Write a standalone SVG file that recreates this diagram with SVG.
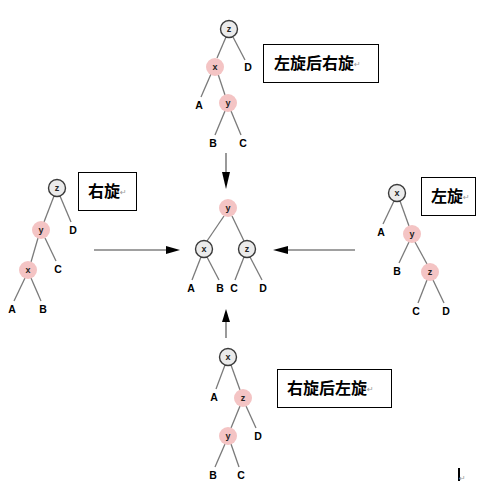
<svg xmlns="http://www.w3.org/2000/svg" width="498" height="486" viewBox="0 0 498 486">
<defs>
<style>
.bg{fill:#ffffff}
.edge{stroke:#7a7a7a;stroke-width:1.3;fill:none}
.arrow{stroke:#808080;stroke-width:1.6;fill:none}
.head{fill:#000000}
.gn{fill:#ebebeb;stroke:#3a3a3a;stroke-width:1.4}
.pn{fill:#f4c4c4;stroke:none}
.nl{font-family:"Liberation Sans",Arial,sans-serif;font-weight:bold;font-size:9px;fill:#222;text-anchor:middle}
.lf{font-family:"Liberation Sans",Arial,sans-serif;font-weight:bold;font-size:10.5px;fill:#000;text-anchor:middle}
.box{fill:#ffffff;stroke:#000;stroke-width:1}
.bt{font-family:"Noto Sans CJK SC","Noto Sans CJK JP",sans-serif;font-weight:bold;font-size:16px;fill:#000}
.pm{font-family:"DejaVu Sans",sans-serif;font-size:8px;fill:#999}
</style>
</defs>
<rect class="bg" x="0" y="0" width="498" height="486"/>
<g id="connectors">
<line class="edge" x1="226" y1="37" x2="217" y2="58"/>
<line class="edge" x1="233" y1="37" x2="245" y2="60"/>
<line class="edge" x1="211" y1="74" x2="201" y2="97"/>
<line class="edge" x1="218" y1="74" x2="225" y2="95"/>
<line class="edge" x1="225" y1="111" x2="215" y2="135"/>
<line class="edge" x1="231" y1="111" x2="241" y2="135"/>
<line class="edge" x1="54" y1="196" x2="44" y2="222"/>
<line class="edge" x1="60" y1="196" x2="71" y2="222"/>
<line class="edge" x1="38" y1="238" x2="31" y2="262"/>
<line class="edge" x1="45" y1="238" x2="56" y2="261"/>
<line class="edge" x1="25" y1="278" x2="14" y2="301"/>
<line class="edge" x1="31" y1="278" x2="41" y2="301"/>
<line class="edge" x1="224" y1="216" x2="207" y2="241"/>
<line class="edge" x1="232" y1="216" x2="244" y2="241"/>
<line class="edge" x1="201" y1="257" x2="192" y2="280"/>
<line class="edge" x1="207" y1="257" x2="219" y2="280"/>
<line class="edge" x1="244" y1="257" x2="235" y2="280"/>
<line class="edge" x1="250" y1="257" x2="262" y2="280"/>
<line class="edge" x1="394" y1="201" x2="383" y2="224"/>
<line class="edge" x1="400" y1="201" x2="409" y2="226"/>
<line class="edge" x1="409" y1="242" x2="399" y2="263"/>
<line class="edge" x1="415" y1="242" x2="427" y2="264"/>
<line class="edge" x1="427" y1="280" x2="418" y2="303"/>
<line class="edge" x1="433" y1="280" x2="444" y2="303"/>
<line class="edge" x1="225" y1="365" x2="216" y2="389"/>
<line class="edge" x1="231" y1="365" x2="240" y2="390"/>
<line class="edge" x1="240" y1="406" x2="231" y2="428"/>
<line class="edge" x1="246" y1="406" x2="256" y2="428"/>
<line class="edge" x1="225" y1="444" x2="215" y2="467"/>
<line class="edge" x1="231" y1="444" x2="239" y2="467"/>
<line class="arrow" x1="226" y1="153" x2="226" y2="176"/>
<polygon class="head" points="222,172 230,172 226,189"/>
<line class="arrow" x1="94" y1="250" x2="170" y2="250"/>
<polygon class="head" points="166,246 166,254 180,250"/>
<line class="arrow" x1="355" y1="250" x2="283" y2="250"/>
<polygon class="head" points="288,246 288,254 273,250"/>
<line class="arrow" x1="226" y1="338" x2="226" y2="318"/>
<polygon class="head" points="222,322 230,322 226,309"/>
</g>
<g id="tree-top">
<circle class="gn" cx="229" cy="29" r="8.5"/><text class="nl" x="229" y="32">z</text>
<circle class="pn" cx="215" cy="67" r="9"/><text class="nl" x="215" y="70">x</text>
<text class="lf" x="248" y="71">D</text>
<text class="lf" x="199" y="109">A</text>
<circle class="pn" cx="228" cy="103" r="9"/><text class="nl" x="228" y="106">y</text>
<text class="lf" x="213" y="147">B</text>
<text class="lf" x="243" y="147">C</text>
</g>
<g id="tree-left">
<circle class="gn" cx="57" cy="188" r="8.5"/><text class="nl" x="57" y="191">z</text>
<circle class="pn" cx="41" cy="230" r="9"/><text class="nl" x="41" y="233">y</text>
<text class="lf" x="73" y="234">D</text>
<circle class="pn" cx="28" cy="270" r="9"/><text class="nl" x="28" y="273">x</text>
<text class="lf" x="58" y="273">C</text>
<text class="lf" x="12" y="313">A</text>
<text class="lf" x="43" y="313">B</text>
</g>
<g id="tree-center">
<circle class="pn" cx="228" cy="208" r="9"/><text class="nl" x="228" y="211">y</text>
<circle class="gn" cx="204" cy="249" r="8.5"/><text class="nl" x="204" y="252">x</text>
<circle class="gn" cx="247" cy="249" r="8.5"/><text class="nl" x="247" y="252">z</text>
<text class="lf" x="191" y="292">A</text>
<text class="lf" x="220" y="292">B</text>
<text class="lf" x="234" y="292">C</text>
<text class="lf" x="263" y="292">D</text>
</g>
<g id="tree-right">
<circle class="gn" cx="397" cy="193" r="8.5"/><text class="nl" x="397" y="196">x</text>
<text class="lf" x="381" y="236">A</text>
<circle class="pn" cx="412" cy="234" r="9"/><text class="nl" x="412" y="237">y</text>
<text class="lf" x="397" y="275">B</text>
<circle class="pn" cx="430" cy="272" r="9"/><text class="nl" x="430" y="275">z</text>
<text class="lf" x="416" y="315">C</text>
<text class="lf" x="446" y="315">D</text>
</g>
<g id="tree-bottom">
<circle class="gn" cx="228" cy="357" r="8.5"/><text class="nl" x="228" y="360">x</text>
<text class="lf" x="214" y="401">A</text>
<circle class="pn" cx="243" cy="398" r="9"/><text class="nl" x="243" y="401">z</text>
<circle class="pn" cx="228" cy="436" r="9"/><text class="nl" x="228" y="439">y</text>
<text class="lf" x="258" y="440">D</text>
<text class="lf" x="213" y="479">B</text>
<text class="lf" x="241" y="479">C</text>
</g>
<g id="label-lr">
<rect class="box" x="263.5" y="44.5" width="115" height="38"/>
<text class="bt" x="274" y="69">左旋后右旋</text><text class="pm" x="354" y="67">↵</text>
</g>
<g id="label-r">
<rect class="box" x="78.5" y="172.5" width="58" height="38"/>
<text class="bt" x="88" y="197">右旋</text><text class="pm" x="120" y="195">↵</text>
</g>
<g id="label-l">
<rect class="box" x="421.5" y="177.5" width="54" height="38"/>
<text class="bt" x="431" y="202">左旋</text><text class="pm" x="463" y="200">↵</text>
</g>
<g id="label-rl">
<rect class="box" x="277.5" y="369.5" width="114" height="38"/>
<text class="bt" x="287" y="394">右旋后左旋</text><text class="pm" x="367" y="392">↵</text>
</g>
<g id="cursor">
<rect x="458" y="468" width="2" height="13" fill="#000"/>
<text class="pm" x="459" y="481">↵</text>
</g>
</svg>
